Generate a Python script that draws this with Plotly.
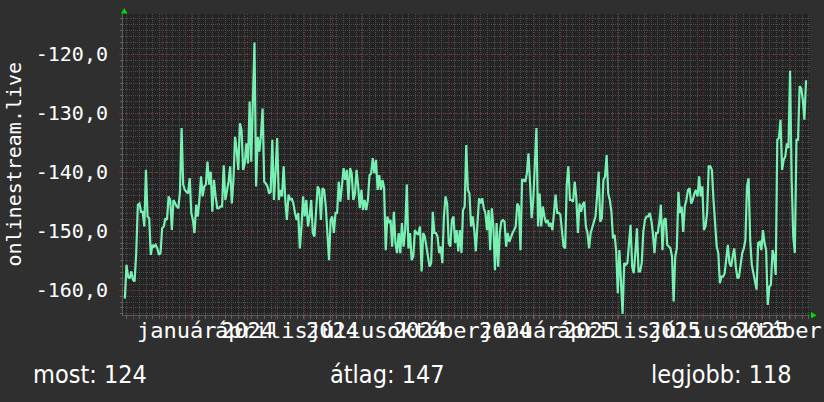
import pandas as pd
import plotly.graph_objects as go

# ---- data ----
# segment 1: 2023-11-22 .. 2024-09-30
values_a = [
    -161.4, -155.7, -157.7, -158.0, -156.8, -158.2, -158.5, -153.7, -145.5, -145.3,
    -146.7, -146.7, -149.2, -139.6, -147.5, -147.8, -154.0, -152.3, -152.6, -152.3,
    -152.9, -154.0, -153.7, -149.5, -149.2, -147.8, -148.1, -144.1, -144.7, -149.8,
    -144.7, -145.3, -145.8, -146.1, -143.3, -132.5, -142.1, -143.0, -143.3, -143.6,
    -141.0, -146.9, -148.1, -150.3, -145.5, -147.5, -144.7, -140.7, -144.1, -142.4,
    -142.1, -138.2, -142.1, -139.9, -146.7, -141.3, -144.1, -146.1, -146.1, -145.8,
    -145.8, -138.8, -144.7, -143.0, -141.6, -139.0, -145.3, -141.3, -134.0, -136.2,
    -139.6, -131.7, -132.8, -139.6, -138.5, -135.1, -138.5, -128.0, -138.2, -128.0,
    -118.0, -142.4, -134.0, -136.5, -133.7, -129.2, -141.6, -141.9, -142.4, -143.6,
    -143.3, -134.5, -144.7, -139.9, -134.2, -144.7, -143.0, -144.1, -139.0, -144.7,
    -148.1, -143.8, -144.7, -144.4, -145.3, -146.9, -148.1, -146.9, -152.9, -149.2,
    -144.1, -147.5, -144.7, -149.2, -147.5, -144.7, -150.3, -150.9, -146.9, -142.4,
    -143.0, -148.1, -142.7, -143.0, -145.8, -149.8, -154.9, -148.1, -147.5, -150.3,
    -146.9, -146.9, -141.6, -145.0, -141.3, -139.3, -141.3, -139.6, -144.7, -139.3,
    -140.2, -144.7, -143.6, -139.6, -142.4, -146.1, -143.0, -146.4, -144.7, -146.4,
    -144.7, -140.5, -140.2, -137.6, -140.2, -137.9, -143.0, -140.5, -143.0, -141.3,
    -142.7, -153.2, -147.5, -148.6, -148.1, -152.6, -146.7, -152.0, -153.7, -150.3,
    -153.7, -148.6, -152.6, -149.8, -142.1, -152.9, -150.3, -154.9, -154.3, -149.8,
    -150.3, -150.6,
]
# segment 2: 2024-10-02 .. 2025-11-18
values_b = [
    -149.2, -156.8, -150.3, -150.9, -152.6, -154.3, -156.0, -155.4, -146.7, -150.3,
    -150.3, -150.9, -153.7, -152.6, -155.4, -147.5, -144.1, -145.3, -152.0, -152.6,
    -148.1, -147.5, -152.0, -149.8, -153.4, -149.8, -153.7, -146.4, -145.8, -135.4,
    -143.0, -143.6, -149.2, -147.5, -149.8, -153.4, -147.5, -144.4, -145.3, -144.4,
    -146.1, -146.9, -149.8, -146.4, -153.2, -146.1, -149.2, -156.6, -148.6, -156.0,
    -150.3, -148.4, -148.1, -148.4, -152.6, -150.3, -151.8, -150.9, -150.3, -149.8,
    -149.2, -145.3, -145.8, -153.2, -141.3, -141.3, -141.6, -140.2, -136.8, -141.9,
    -147.8, -144.7, -139.0, -132.5, -149.2, -143.6, -149.2, -145.8, -147.5, -148.6,
    -148.1, -149.2, -148.6, -149.8, -146.9, -143.8, -146.9, -146.9, -147.2, -150.3,
    -152.6, -152.9, -142.1, -139.0, -144.7, -144.7, -145.0, -141.6, -144.4, -150.3,
    -145.3, -146.7, -145.5, -145.0, -149.2, -150.3, -152.9, -150.3, -149.2, -148.1,
    -147.5, -144.1, -139.9, -148.4, -147.8, -141.3, -140.7, -137.1, -143.6, -144.7,
    -146.7, -151.2, -150.6, -153.4, -160.5, -153.2, -157.7, -164.0, -155.4, -155.7,
    -155.4, -152.0, -148.9, -156.0, -157.1, -153.7, -149.5, -156.8, -156.8, -155.4,
    -150.1, -148.1, -147.5, -147.5, -146.9, -148.1, -150.3, -153.7, -150.3, -150.3,
    -148.6, -145.5, -153.2, -148.1, -147.8, -152.3, -152.6, -152.9, -154.3, -161.9,
    -154.3, -152.9, -143.3, -146.9, -145.8, -150.1, -145.8, -144.7, -143.0, -142.7,
    -145.3, -144.7, -143.6, -143.0, -144.1, -140.7, -144.1, -142.4, -149.8, -149.2,
    -146.9, -139.0, -139.0, -139.6, -144.7, -149.2, -152.6, -153.7, -158.8, -157.7,
    -157.7, -157.1, -154.9, -152.3, -155.4, -156.0, -154.3, -152.9, -156.0, -158.0,
    -157.7, -155.1, -153.7, -152.9, -151.5, -142.4, -141.0, -151.5, -155.7, -157.1,
    -158.5, -159.9, -152.0, -151.8, -153.2, -149.8, -152.0, -153.2, -162.5, -159.4,
    -159.1, -153.2, -154.3, -157.4, -134.5, -134.2, -131.1, -139.6, -137.9, -137.3,
    -135.1, -135.9, -122.8, -141.3, -150.9, -153.7, -134.5, -134.5, -125.4, -125.8,
    -127.7, -131.1, -124.4,
]
dates_a = pd.date_range("2023-11-22", "2024-09-30", periods=len(values_a))
dates_b = pd.date_range("2024-10-02", "2025-11-18", periods=len(values_b))
dates = list(dates_a) + list(dates_b)
values = values_a + values_b

y_tickvals = [-120, -130, -140, -150, -160]
y_ticktext = ["-120,0", "-130,0", "-140,0", "-150,0", "-160,0"]

month_labels = ["január", "április", "július", "október",
                "január", "április", "július", "október"]
month_pos = ["2024-01-16 12:00", "2024-04-16", "2024-07-16 12:00", "2024-10-16 12:00",
             "2025-01-16 12:00", "2025-04-16", "2025-07-16 12:00", "2025-10-16 12:00"]
year_labels = ["2024", "2024", "2024", "2024", "2025", "2025", "2025"]
year_pos = ["2024-04-01", "2024-07-01", "2024-10-01", "2025-01-01",
            "2025-04-01", "2025-07-01", "2025-10-01"]

axis_title = "onlinestream.live"
stats = ["most: 124", "átlag: 147", "legjobb: 118"]

# ---- style ----
BG = "#2f2f2f"
PLOT_BG = "#242424"
LINE = "#78f0b4"
MAJOR = "#7a3030"
MINOR = "#4c4c4c"
MONO = "DejaVu Sans Mono"

fig = go.Figure()
fig.add_trace(go.Scatter(x=dates, y=values, mode="lines",
                         line=dict(color=LINE, width=2.2), hoverinfo="skip"))

fig.update_layout(
    width=824, height=402,
    margin=dict(l=123, r=14, t=14, b=87, autoexpand=False),
    paper_bgcolor=BG, plot_bgcolor=PLOT_BG,
    showlegend=False,
)
fig.update_xaxes(
    type="date", automargin=False,
    range=["2023-11-20", "2025-11-22 06:00"],
    showticklabels=False,
    tick0="2023-12-01", dtick="M1",
    showgrid=True, gridcolor=MAJOR, griddash="1px,2px", gridwidth=1,
    ticks="outside", ticklen=4, tickcolor="#7a3030",
    minor=dict(dtick=7 * 86400000, tick0="2023-12-01", showgrid=True,
               gridcolor=MINOR, griddash="1px,1px", ticks="outside",
               ticklen=3, tickcolor="#606060"),
    showline=True, linecolor="#5a5a5a", linewidth=1,
    zeroline=False, fixedrange=True,
)
fig.update_yaxes(
    automargin=False,
    range=[-164.2, -113.17],
    tickvals=y_tickvals, ticktext=y_ticktext,
    tickfont=dict(family=MONO, size=20, color="#ffffff"),
    showgrid=True, gridcolor=MAJOR, griddash="1px,2px", gridwidth=1,
    ticks="outside", ticklen=3, tickcolor="#7a3030", ticklabelstandoff=7,
    minor=dict(dtick=1, showgrid=True, gridcolor=MINOR, griddash="1px,1px",
               ticks="outside", ticklen=2, tickcolor="#606060"),
    showline=True, linecolor="#5a5a5a", linewidth=1,
    zeroline=False, fixedrange=True,
)

for lab, pos in zip(month_labels, month_pos):
    fig.add_annotation(x=pos, xref="x", y=-0.053, yref="paper", text=lab,
                       showarrow=False, xanchor="center", yanchor="middle",
                       font=dict(family=MONO, size=22, color="#ffffff"))
for lab, pos in zip(year_labels, year_pos):
    fig.add_annotation(x=pos, xref="x", y=-0.053, yref="paper", text=lab,
                       showarrow=False, xanchor="center", yanchor="middle",
                       font=dict(family=MONO, size=22, color="#ffffff"))

fig.add_annotation(x=-0.16, xref="paper", y=0.5, yref="paper", text=axis_title,
                   textangle=-90, showarrow=False, xanchor="center", yanchor="middle",
                   font=dict(family=MONO, size=20, color="#ffffff"))

SANS = "DejaVu Sans Condensed, Liberation Sans Narrow, DejaVu Sans"
fig.add_annotation(x=-0.134, xref="paper", y=-0.198, yref="paper", text=stats[0],
                   showarrow=False, xanchor="left", yanchor="middle",
                   font=dict(family=SANS, size=25, color="#ffffff"))
fig.add_annotation(x=0.298, xref="paper", y=-0.198, yref="paper", text=stats[1],
                   showarrow=False, xanchor="left", yanchor="middle",
                   font=dict(family=SANS, size=25, color="#ffffff"))
fig.add_annotation(x=0.977, xref="paper", y=-0.198, yref="paper", text=stats[2],
                   showarrow=False, xanchor="right", yanchor="middle",
                   font=dict(family=SANS, size=25, color="#ffffff"))

# axis arrows
fig.add_shape(type="path", xref="paper", yref="paper", xsizemode="pixel",
              ysizemode="pixel", xanchor=0, yanchor=1,
              path="M -2 0.5 L 4.5 0.5 L 1.2 6 Z",
              fillcolor="#00dd00", line=dict(width=0))
fig.add_shape(type="path", xref="paper", yref="paper", xsizemode="pixel",
              ysizemode="pixel", xanchor=1, yanchor=0,
              path="M 1 3 L 1 -3.5 L 6.5 -0.2 Z",
              fillcolor="#00dd00", line=dict(width=0))

fig.write_html("out.html", config={"displayModeBar": False},
               post_script="document.body.style.margin='0px';"
                           "document.body.style.background='#2f2f2f';")
